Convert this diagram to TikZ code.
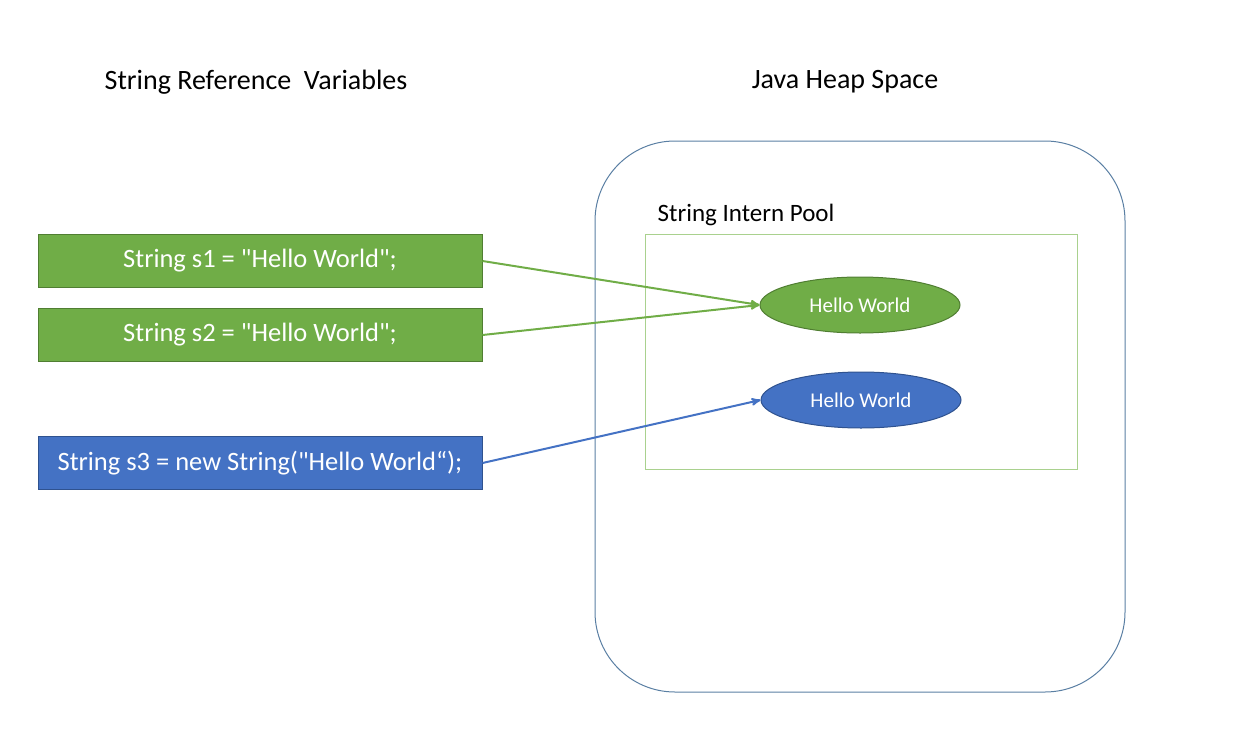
\documentclass[tikz,border=0pt]{standalone}
\usepackage{fontspec}
\setmainfont{Carlito}[Ligatures=TeXOff]
\usetikzlibrary{shapes,positioning,arrows}

\definecolor{vargreen}{HTML}{70AD47}
\definecolor{vargreenline}{HTML}{507E32}
\definecolor{varblue}{HTML}{4472C4}
\definecolor{varblueline}{HTML}{2F528F}
\definecolor{poolline}{HTML}{A9D18E}
\definecolor{heapline}{HTML}{5A7FA3}

\tikzset{
	refvar/.style={rectangle,draw,line width=1pt,minimum width=444pt,minimum height=53pt,inner sep=0pt,text=white,font=\fontsize{26.5}{30}\selectfont},
	strobj/.style={ellipse,draw,line width=1pt,minimum width=200pt,minimum height=56pt,inner sep=0pt,text=white,font=\fontsize{21}{25}\selectfont},
	title/.style={font=\fontsize{28}{32}\selectfont}
}

\begin{document}
\begin{tikzpicture}[x=1pt,y=-1pt,->,>=stealth',shorten >=0pt,node distance=20pt]
		
		\useasboundingbox (0,0) rectangle (1233,728);
		
		\node[title] (vartitle)  at (256,82) {String Reference\ \ Variables};
		\node[title] (heaptitle) at (845,82) {Java Heap Space};
		
		\node[draw=heapline,line width=1pt,rounded corners=80pt,minimum width=530pt,minimum height=551pt] (heap) at (860,416.5) {};
		\node[draw=poolline,line width=1pt,minimum width=432pt,minimum height=235pt] (pool) at (861,351.5) {};
		\node[font=\fontsize{25}{29}\selectfont,anchor=west,inner sep=0pt] (poollabel) at ([xshift=13pt,yshift=19pt]pool.north west) {String Intern Pool};
		
		\node[strobj,fill=vargreen,draw=vargreenline] (hw1) at (860,305) {Hello World};
		\node[strobj,fill=varblue,draw=varblueline] (hw2) at (861,400) {Hello World};
		
		\node[refvar,fill=vargreen,draw=vargreenline] (s1) at (260,261) {String s1 = "Hello World";};
		\node[refvar,fill=vargreen,draw=vargreenline] (s2) [below=of s1] {String s2 = "Hello World";};
		\node[refvar,fill=varblue,draw=varblueline] (s3) [below=74pt of s2] {String s3 = new String("Hello World“);};
		
		\path[line width=2pt] 
		(s1.east) edge[vargreen] (hw1.west)
		(s2.east) edge[vargreen] (hw1.west)
		(s3.east) edge[varblue]  (hw2.west)
		;
		\end{tikzpicture}
\end{document}
